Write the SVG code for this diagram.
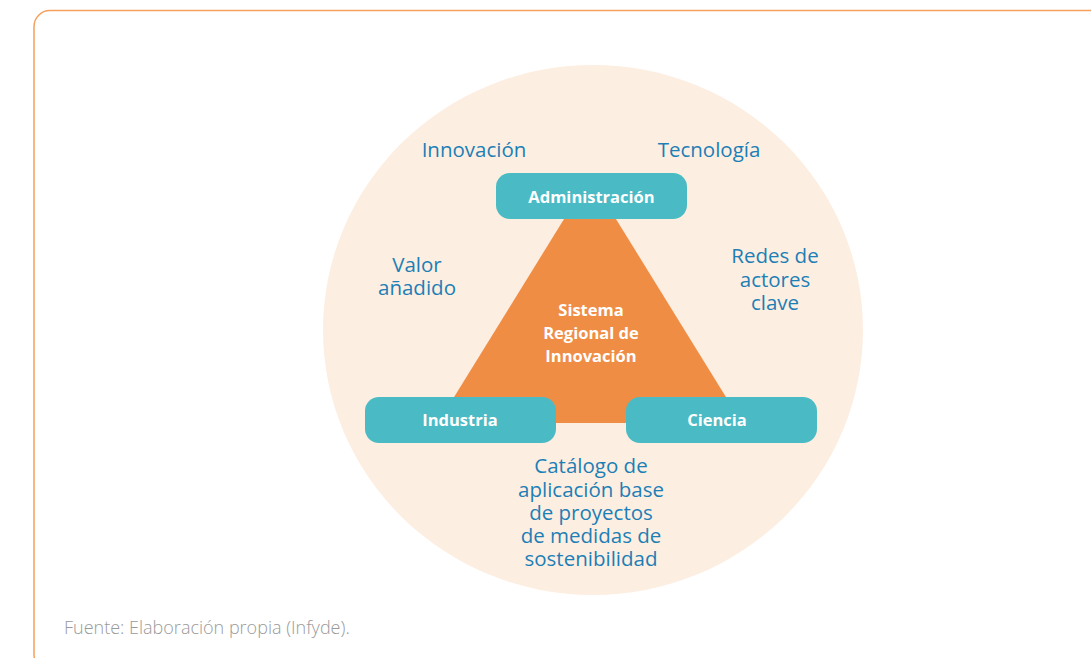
<svg xmlns="http://www.w3.org/2000/svg" width="1091" height="658" viewBox="0 0 1091 658">
<style>
.lbl{font-family:"Open Sans","Noto Sans",sans-serif;font-size:20.5px;fill:#1C7FB6;text-anchor:middle}
.box{fill:#4ABAC4}
.nt{font-family:"Open Sans","Noto Sans",sans-serif;font-size:16.5px;font-weight:bold;fill:#FFFFFF;text-anchor:middle}
</style>
<rect width="1091" height="658" fill="#FFFFFF"/>
<rect x="34" y="10.5" width="1100" height="660" rx="16" fill="none" stroke="#F5A05C" stroke-width="1.5"/>
<ellipse cx="593" cy="330" rx="270" ry="265" fill="#FDEEE2"/>
<g id="sistema">
<polygon points="590,177 438,423 742,423" fill="#F08D45"/>
<text class="nt" x="591" y="316">Sistema</text>
<text class="nt" x="591" y="339">Regional de</text>
<text class="nt" x="591" y="362">Innovación</text>
</g>
<g id="connectors"></g>
<g id="administracion">
<rect class="box" x="496" y="173" width="191" height="46" rx="14"/>
<text class="nt" x="591.5" y="203">Administración</text>
</g>
<g id="industria">
<rect class="box" x="365" y="397" width="191" height="46" rx="14"/>
<text class="nt" x="460" y="426">Industria</text>
</g>
<g id="ciencia">
<rect class="box" x="626" y="397" width="191" height="46" rx="14"/>
<text class="nt" x="717" y="426">Ciencia</text>
</g>
<g id="labels">
<text class="lbl" x="474" y="157">Innovación</text>
<text class="lbl" x="709" y="157">Tecnología</text>
<text class="lbl" x="417" y="272">Valor</text>
<text class="lbl" x="417" y="295">añadido</text>
<text class="lbl" x="775" y="263">Redes de</text>
<text class="lbl" x="775" y="287">actores</text>
<text class="lbl" x="775" y="310">clave</text>
<text class="lbl" x="591" y="473">Catálogo de</text>
<text class="lbl" x="591" y="497">aplicación base</text>
<text class="lbl" x="591" y="520">de proyectos</text>
<text class="lbl" x="591" y="543">de medidas de</text>
<text class="lbl" x="591" y="566">sostenibilidad</text>
</g>
<text x="64" y="634" font-family="'Open Sans','Noto Sans',sans-serif" font-size="18" font-weight="300" fill="#9A9A9A">Fuente: Elaboración propia (Infyde).</text>
</svg>
